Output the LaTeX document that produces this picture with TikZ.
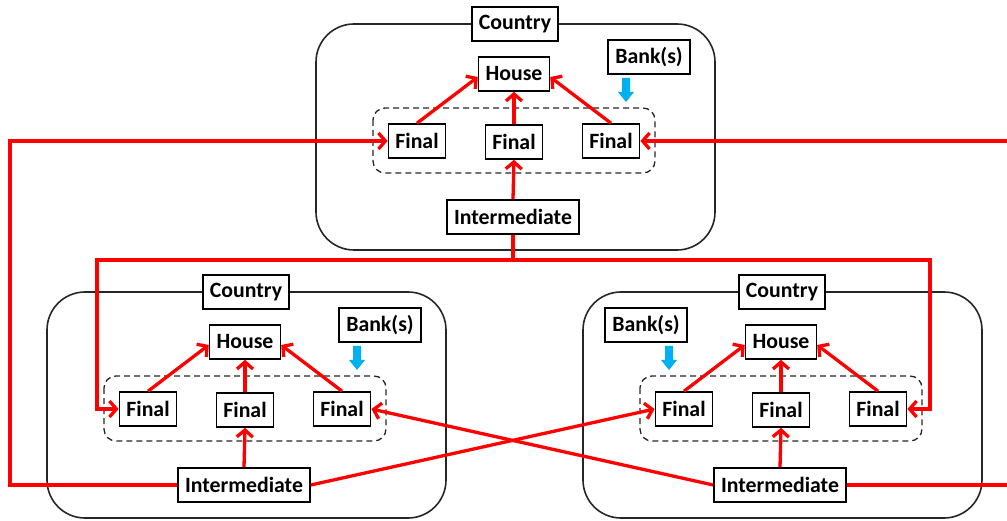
\documentclass[tikz,border=0pt]{standalone}
\usepackage{fontspec}
\setmainfont{Carlito}
\usetikzlibrary{arrows.meta}
\definecolor{bankblue}{RGB}{0,176,240}
\definecolor{flowred}{RGB}{255,0,0}
\tikzset{
  box/.style={draw=black,line width=1.6pt,fill=white,minimum height=34pt,inner xsep=7pt,inner ysep=0pt,
    font=\fontsize{21.8}{26}\selectfont\bfseries},
  outerbox/.style={draw=black!85,line width=1.6pt,rounded corners=38pt},
  dashbox/.style={draw=black!85,line width=1.3pt,dash pattern=on 6pt off 4pt,rounded corners=12pt},
  flow/.style={draw=flowred,line width=3.3pt,-{Straight Barb[length=7pt,width=16pt]}},
  flowline/.style={draw=flowred,line width=3.3pt},
  bankarrow/.style={fill=bankblue},
}
\newcommand\countrygroup[4]{%
  \begin{scope}[shift={(#2,#3)}]
    \draw[outerbox] (-198,-50) rectangle (201,176);
    \draw[dashbox] (-141,34) rectangle (141,99);
    \node[box] (#1country) at (1,-50) {Country};
    \node[box] (#1house) at (0,0) {House};
    \node[box] (#1bank) at (#4*135,-17) {Bank(s)};
    \fill[bankarrow] (#4*112-4,4) -- (#4*112+4,4) -- (#4*112+4,18) -- (#4*112+8,18)
      -- (#4*112,28) -- (#4*112-8,18) -- (#4*112-4,18) -- cycle;
    \node[box] (#1fl) at (-97,67) {Final};
    \node[box] (#1fm) at (0,68) {Final};
    \node[box] (#1fr) at (97,67) {Final};
    \node[box] (#1inter) at (-1,143) {Intermediate};
    \draw[flow] (#1fl.north) -- ([yshift=-3pt]#1house.west);
    \draw[flow] (#1fm.north) -- (#1house.south);
    \draw[flow] (#1fr.north) -- ([yshift=-3pt]#1house.east);
    \draw[flow] (#1inter.north) -- (#1fm.south);
  \end{scope}}
\begin{document}
\begin{tikzpicture}[x=1pt,y=-1pt]
  \useasboundingbox (0,0) rectangle (1007,521);
  \countrygroup{T}{514}{74}{1}
  \countrygroup{L}{245}{342}{1}
  \countrygroup{R}{781}{342}{-1}
  \coordinate (lx) at (10,141);
  \coordinate (jl) at (97,260);
  \coordinate (jr) at (930,260);
  \coordinate (edgeA) at (1015,141);
  \coordinate (edgeB) at (1015,486);
  \draw[flow] (Linter.west) -| (lx) -- (Tfl.west);
  \draw[flow] (edgeA |- Tfr.east) -- (Tfr.east);
  \draw[flowline] (Rinter.east) -- (Rinter.east -| edgeB);
  \draw[flow] (Tinter.south) |- (jl) |- (Lfl.west);
  \draw[flow] (Tinter.south) |- (jr) |- (Rfr.east);
  \draw[flow] (Linter.east) -- (Rfl.west);
  \draw[flow] (Rinter.west) -- (Lfr.east);
\end{tikzpicture}
\end{document}
